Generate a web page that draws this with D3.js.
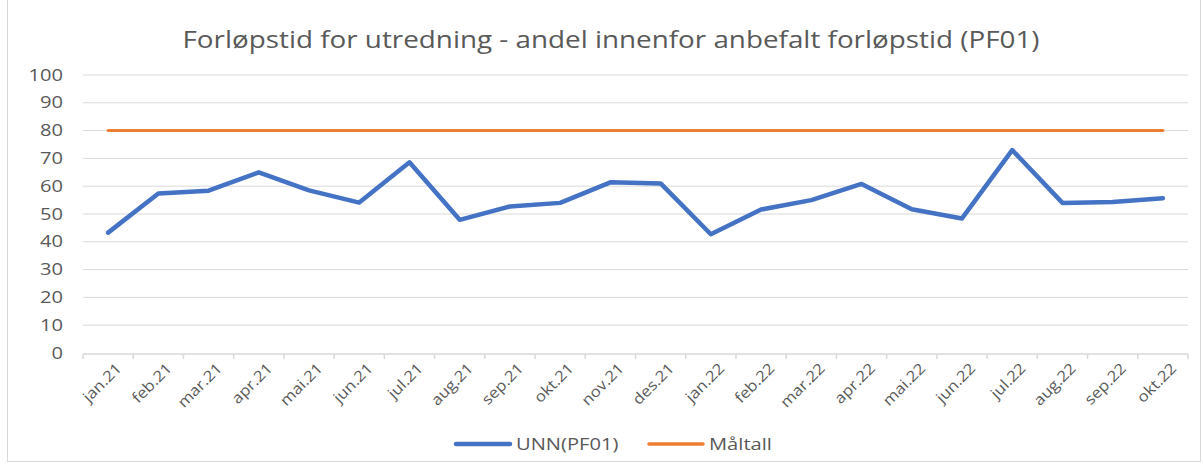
<!DOCTYPE html>
<html>
<head>
<meta charset="utf-8">
<script src="https://cdn.jsdelivr.net/npm/d3@7"></script>
<style>
  body { margin: 0; background: #fff; }
  text { font-family: "Open Sans", sans-serif; fill: #595959; }
</style>
</head>
<body>
<svg id="chart" width="1203" height="464"></svg>
<script>
// data
var months = ["jan.21", "feb.21", "mar.21", "apr.21", "mai.21", "jun.21", "jul.21", "aug.21",
  "sep.21", "okt.21", "nov.21", "des.21", "jan.22", "feb.22", "mar.22", "apr.22",
  "mai.22", "jun.22", "jul.22", "aug.22", "sep.22", "okt.22"];
var unn = [43.3, 57.4, 58.4, 65.0, 58.5, 54.1, 68.6, 47.9, 52.7, 54.0, 61.4, 61.0,
  42.7, 51.6, 55.0, 60.8, 51.7, 48.4, 73.0, 54.0, 54.3, 55.7];
var maltall = months.map(function () { return 80; });
var yTicks = [0, 10, 20, 30, 40, 50, 60, 70, 80, 90, 100];

var svg = d3.select("#chart"),
  width = +svg.attr("width"),
  height = +svg.attr("height");

var margin = { left: 83, right: 15, top: 75, bottom: 111 };
var stretch = 1.3; // the reference text is wide, Calibri-like stretched

// outer frame
svg.append("rect")
  .attr("x", 7.5).attr("y", -1)
  .attr("width", width - 10).attr("height", height - 1.5)
  .attr("fill", "none")
  .attr("stroke", "#d9d9d9");

var x = d3.scaleBand()
  .domain(months)
  .range([margin.left, width - margin.right]);

var y = d3.scaleLinear()
  .domain([0, 100])
  .range([height - margin.bottom, margin.top]);

// title
svg.append("text")
  .attr("x", 611).attr("y", 48)
  .attr("text-anchor", "middle")
  .attr("textLength", 857)
  .attr("lengthAdjust", "spacingAndGlyphs")
  .style("font-size", "23px")
  .text("Forløpstid for utredning - andel innenfor anbefalt forløpstid (PF01)");

// gridlines
svg.append("g")
  .selectAll("line")
  .data(yTicks.filter(function (d) { return d > 0; }))
  .enter()
  .append("line")
  .attr("x1", margin.left).attr("x2", width - margin.right)
  .attr("y1", function (d) { return y(d); })
  .attr("y2", function (d) { return y(d); })
  .attr("stroke", "#d9d9d9")
  .attr("stroke-width", 1);

// y labels
svg.append("g")
  .selectAll("text")
  .data(yTicks)
  .enter()
  .append("text")
  .attr("transform", function (d) {
    return "translate(63," + y(d) + ") scale(" + stretch + ",1)";
  })
  .attr("dy", "0.36em")
  .attr("text-anchor", "end")
  .style("font-size", "15.5px")
  .text(function (d) { return d; });

// x axis
var xAxis = svg.append("g")
  .attr("transform", "translate(0," + (y(0) + 1) + ")");
xAxis.append("line")
  .attr("x1", margin.left).attr("x2", width - margin.right)
  .attr("stroke", "#d9d9d9").attr("stroke-width", 1.5);
xAxis.selectAll("line.tick")
  .data(months.concat(["end"]))
  .enter()
  .append("line")
  .attr("class", "tick")
  .attr("x1", function (d, i) { return margin.left + i * x.step(); })
  .attr("x2", function (d, i) { return margin.left + i * x.step(); })
  .attr("y1", 0).attr("y2", 5)
  .attr("stroke", "#d9d9d9").attr("stroke-width", 1.5);
xAxis.selectAll("text")
  .data(months)
  .enter()
  .append("text")
  .attr("transform", function (d) {
    return "translate(" + (x(d) + x.bandwidth() / 2 + 7) + ",8) rotate(-45) scale(1.12,1)";
  })
  .attr("text-anchor", "end")
  .attr("dy", "0.7em")
  .style("font-size", "15px")
  .text(function (d) { return d; });

var line = d3.line()
  .x(function (d, i) { return x(months[i]) + x.bandwidth() / 2; })
  .y(function (d) { return y(d); });

svg.append("path")
  .datum(maltall)
  .attr("d", line)
  .attr("fill", "none")
  .attr("stroke", "#ed7d31")
  .attr("stroke-width", 3)
  .attr("stroke-linecap", "round");

svg.append("path")
  .datum(unn)
  .attr("d", line)
  .attr("fill", "none")
  .attr("stroke", "#4472c4")
  .attr("stroke-width", 4.5)
  .attr("stroke-linecap", "round")
  .attr("stroke-linejoin", "round");

// legend
var legend = [
  { name: "UNN(PF01)", color: "#4472c4", w: 4.5, x: 456 },
  { name: "Måltall", color: "#ed7d31", w: 3.5, x: 649 }
];
var lg = svg.append("g").selectAll("g")
  .data(legend)
  .enter()
  .append("g")
  .attr("transform", function (d) { return "translate(" + d.x + ",444)"; });
lg.append("line")
  .attr("x1", 0).attr("x2", 54)
  .attr("stroke", function (d) { return d.color; })
  .attr("stroke-width", function (d) { return d.w; })
  .attr("stroke-linecap", "round");
lg.append("text")
  .attr("transform", "translate(60,0) scale(" + stretch + ",1)")
  .attr("dy", "0.36em")
  .style("font-size", "15.5px")
  .text(function (d) { return d.name; });
</script>
</body>
</html>
